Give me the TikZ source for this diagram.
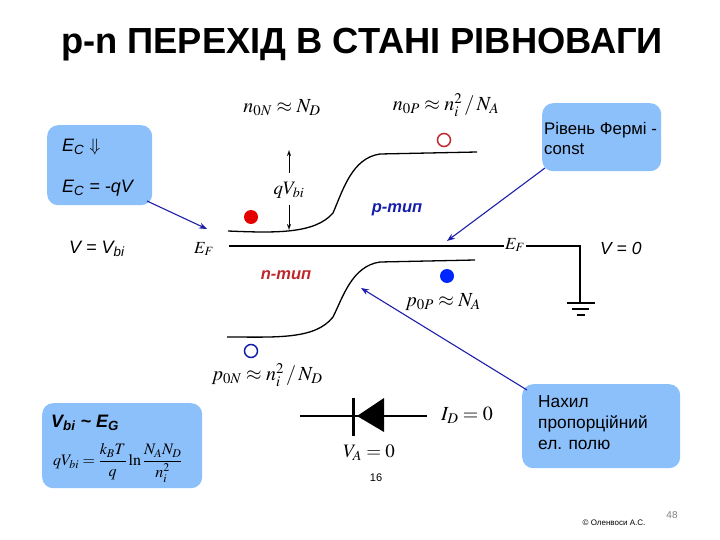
\documentclass[tikz,border=0pt]{standalone}
\usepackage{mathptmx}
\usepackage{fontspec}
\setmainfont{Liberation Sans}
\usetikzlibrary{arrows.meta}

\begin{document}
\begin{tikzpicture}[x=1pt,y=-1pt,
                    blue box/.style={rounded corners=11pt,fill=boxblue,draw=none,inner sep=0pt,anchor=north west,align=left},
                    eq node/.style={font=\fontsize{20}{22}\selectfont,inner sep=0pt},
                    box text/.style={font=\fontsize{16.8}{20}\selectfont,anchor=west,align=left,inner sep=0pt},
                    band/.style={line width=1.3pt},
                    pointer/.style={draw=pointerblue,line width=1.1pt,-{Stealth[length=8pt,width=6pt]}},
                    thin arrow/.style={line width=.6pt,-{Stealth[length=6pt,width=4pt,open]}},
                    carrier/.style={circle,minimum size=14pt,inner sep=0pt}]
  \definecolor{boxblue}{RGB}{140,192,250}
  \definecolor{pointerblue}{RGB}{30,30,170}
  \definecolor{ptype}{RGB}{20,30,170}
  \definecolor{ntype}{RGB}{190,40,45}

  \useasboundingbox (0,0) rectangle (720,540);

  \node[font=\fontsize{36.3}{38}\selectfont\bfseries] (title) at (362,45) {p-n ПЕРЕХІД В СТАНІ РІВНОВАГИ};

  % boxes
  \node[blue box,minimum width=105pt,minimum height=80pt] (ecbox) at (47,125) {};
  \node[box text,font=\fontsize{18}{20}\selectfont\itshape] (ectop) at (62,147) {E\textsubscript{C} $\Downarrow$};
  \node[box text,font=\fontsize{18}{20}\selectfont\itshape] (ecbot) at (62,188) {E\textsubscript{C} = -qV};
  \node[blue box,minimum width=119pt,minimum height=68pt] (fermibox) at (542,103) {};
  \node[box text] (fermi) at (544,138) {Рівень Фермі -\\const};
  \node[blue box,minimum width=158pt,minimum height=84pt] (slopebox) at (522,384) {};
  \node[box text,font=\fontsize{17.3}{21}\selectfont] (slope) at (538,423) {Нахил\\пропорційний\\ел. полю};
  \node[blue box,minimum width=160pt,minimum height=85pt] (vbibox) at (42,403) {};
  \node[box text,font=\fontsize{18}{20}\selectfont\bfseries\itshape] (vbi) at (51,423) {V\textsubscript{bi} \textasciitilde{} E\textsubscript{G}};
  \node[box text,font=\fontsize{16}{18}\selectfont] (vbieq) at (53,463) {$qV_{bi}=\displaystyle\frac{k_BT}{q}\ln\frac{N_AN_D}{n_i^2}$};

  % band edges
  \coordinate (ec left) at (228,231);
  \coordinate (ec right) at (477,152);
  \coordinate (ev left) at (227,337);
  \coordinate (ev right) at (475,260);
  \coordinate (ef left) at (229,246);
  \coordinate (ef right) at (580,246);
  \coordinate (gnd) at (580,303);
  \draw[band] (ec left) .. controls (275,233) and (315,234) .. (333,213)
    .. controls (343,190) and (352,158) .. (380,154) -- (ec right);
  \draw[band] (ev left) .. controls (275,337) and (315,340) .. (333,317)
    .. controls (343,297) and (352,266) .. (380,262) -- (ev right);
  \draw[line width=1.8pt] (ef left) -- (ef right) -- (gnd);
  \foreach \y/\w in {303/14,309/8.5,315/4}
    \draw[line width=2pt] (580.5-\w,\y) -- (580.5+\w,\y);
  \node[eq node,font=\fontsize{17}{19}\selectfont,fill=white,inner sep=1pt] (efr) at (515,245) {$E_F$};
  \node[eq node,font=\fontsize{17}{19}\selectfont] (efl) at (204,249) {$E_F$};

  % carriers
  \node[carrier,fill=red!90!black] (electron n) at (251,217) {};
  \node[carrier,draw=ntype,line width=1.5pt,minimum size=13pt] (electron p) at (444,140) {};
  \node[carrier,fill=blue!85!cyan] (hole p) at (447,276) {};
  \node[carrier,draw=ptype,line width=1.5pt,minimum size=13pt] (hole n) at (251,351) {};

  % formulas
  \node[eq node] (n0n) at (282,108) {$n_{0N}\approx N_D$};
  \node[eq node] (n0p) at (446,105) {$n_{0P}\approx n_i^2\,/\,N_A$};
  \node[eq node] (p0p) at (443,302) {$p_{0P}\approx N_A$};
  \node[eq node] (p0n) at (267,375) {$p_{0N}\approx n_i^2\,/\,N_D$};
  \node[eq node,font=\fontsize{19}{21}\selectfont] (qvbi) at (289,190) {$qV_{bi}$};
  \node[eq node] (idzero) at (467,415) {$I_D=0$};
  \node[eq node,font=\fontsize{19}{21}\selectfont] (vazero) at (369,453) {$V_A=0$};
  \node[box text,font=\fontsize{18}{20}\selectfont\itshape] (vleft) at (69,249) {V = V\textsubscript{bi}};
  \node[box text,font=\fontsize{17.5}{20}\selectfont\itshape] (vright) at (600,248) {V = 0};
  \node[font=\fontsize{16.5}{18}\selectfont\bfseries\itshape,text=ptype] (ptype label) at (397,210) {p-тип};
  \node[font=\fontsize{16.5}{18}\selectfont\bfseries\itshape,text=ntype] (ntype label) at (286,275) {n-тип};

  % qV arrows
  \coordinate (qv top) at (289,150);
  \coordinate (qv bot) at (289,230);
  \coordinate (qv up) at (289,173);
  \coordinate (qv down) at (289,205);
  \draw[thin arrow] (qv up) -- (qv top);
  \draw[thin arrow] (qv down) -- (qv bot);

  % diode
  \coordinate (wire left) at (300,416);
  \coordinate (wire right) at (427,416);
  \coordinate (bar top) at (353,398);
  \coordinate (bar bot) at (353,436);
  \draw[line width=2.6pt] (wire left) -- (wire right);
  \draw[line width=3pt] (bar top) -- (bar bot);
  \fill (357,416) -- (384,398) -- (384,432) -- cycle;

  % pointers
  \coordinate (ec start) at (147,201);
  \coordinate (ef tip) at (207,229);
  \coordinate (fermi start) at (545,168);
  \coordinate (mid tip) at (447,241);
  \coordinate (slope start) at (527,390);
  \coordinate (slope tip) at (361,288);
  \draw[pointer] (ec start) -- (ef tip);
  \draw[pointer] (fermi start) -- (mid tip);
  \draw[pointer] (slope start) -- (slope tip);

  \node[font=\fontsize{11}{13}\selectfont] (sixteen) at (376,478) {16};
  \node[font=\fontsize{8}{10}\selectfont] (copy) at (614,523) {© Оленвоси А.С.};
  \node[font=\fontsize{10}{12}\selectfont,text=gray] (pageno) at (672,515) {48};
\end{tikzpicture}
\end{document}
